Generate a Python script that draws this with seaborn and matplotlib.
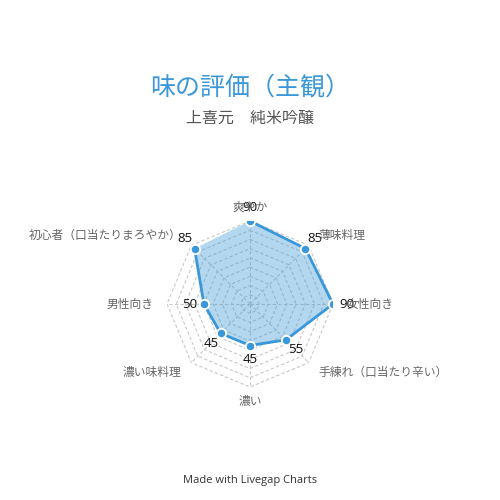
import numpy as np
import pandas as pd
import matplotlib
matplotlib.use("Agg")
import matplotlib.pyplot as plt
import seaborn as sns

CATEGORIAS = ["爽やか", "薄味料理", "女性向き", "手練れ（口当たり辛い）",
              "濃い", "濃い味料理", "男性向き", "初心者（口当たりまろやか）"]
VALORES = [90, 85, 90, 55, 45, 45, 50, 85]
ANILLOS = [10, 20, 30, 40, 50, 60, 70, 80, 90]

TITULO = "味の評価（主観）"
SUBTITULO = "上喜元　純米吟醸"
PIE = "Made with Livegap Charts"

AZUL = "#3a97d9"
GRIS_GRID = "#c8c8c8"

sns.set_style("white")
plt.rcParams['font.family'] = ['Noto Sans CJK JP', 'DejaVu Sans']

n = len(CATEGORIAS)
angulos = np.arange(n) * 2 * np.pi / n
df = pd.DataFrame({"theta": np.append(angulos, angulos[0]),
                   "valor": VALORES + VALORES[:1]})

fig = plt.figure(figsize=(5, 5), dpi=100)
radio = 0.166
cx, cy = 0.5, 1 - 304 / 500
ax = fig.add_axes([cx - radio, cy - radio, 2 * radio, 2 * radio], projection="polar")
ax.set_theta_zero_location("N")
ax.set_theta_direction(-1)
ax.set_ylim(0, 90)
ax.grid(False)
ax.spines["polar"].set_visible(False)
ax.set_xticks([]); ax.set_yticks([])
ax.patch.set_alpha(0)

# rejilla poligonal discontinua
cerrado = np.append(angulos, angulos[0])
for r in ANILLOS:
    ax.plot(cerrado, [r] * len(cerrado), color=GRIS_GRID, lw=0.8, ls=(0, (3, 2)), zorder=1)
for a in angulos:
    ax.plot([a, a], [0, ANILLOS[-1]], color=GRIS_GRID, lw=0.8, ls=(0, (3, 2)), zorder=1)

ax.fill(df["theta"], df["valor"], color=AZUL, alpha=0.38, lw=0, zorder=2)
sns.lineplot(data=df, x="theta", y="valor", sort=False, color=AZUL, lw=2.0, ax=ax, zorder=3)
sns.scatterplot(data=df.iloc[:-1], x="theta", y="valor", color=AZUL, s=45,
                edgecolor="white", linewidth=1.3, ax=ax, zorder=4)
ax.set_xlabel(""); ax.set_ylabel("")

# etiquetas de valor
for a, v in zip(angulos, VALORES):
    ax.text(a, v + 15, str(v), ha="center", va="center", fontsize=9.5,
            color="#111111", family=["Open Sans", "DejaVu Sans"], zorder=5)

# etiquetas de categoría
for a, c in zip(angulos, CATEGORIAS):
    s = np.sin(a)
    if abs(s) < 1e-6:
        ha = "center"
    elif s > 0:
        ha = "left"
    else:
        ha = "right"
    ax.text(a, 105, c, ha=ha, va="center", fontsize=8.5, color="#666666", zorder=5)

fig.text(0.5, 1 - 88 / 500, TITULO, ha="center", va="center", fontsize=18, color=AZUL)
fig.text(0.5, 1 - 118 / 500, SUBTITULO, ha="center", va="center", fontsize=11.5, color="#555555")
fig.text(0.5, 1 - 480 / 500, PIE, ha="center", va="center", fontsize=8,
         color="#333333", family=["Open Sans", "DejaVu Sans"])

fig.savefig("out.png", dpi=100, facecolor="white")
